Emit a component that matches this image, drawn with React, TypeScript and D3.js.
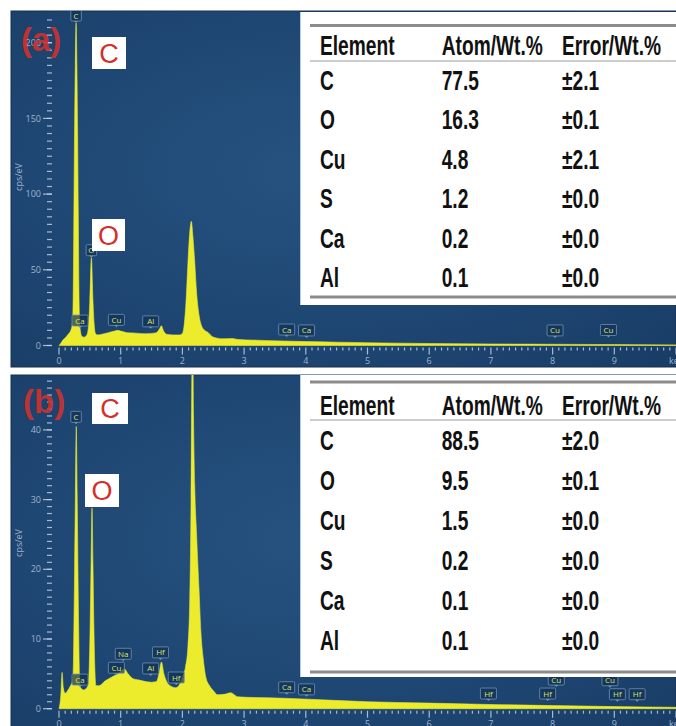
import React from 'react';
import * as d3 from 'd3';

// ---- Quantification tables ----
const tableHeaders = ['Element', 'Atom/Wt.%', 'Error/Wt.%'];
const elements = ['C', 'O', 'Cu', 'S', 'Ca', 'Al'];
const atomA = [77.5, 16.3, 4.8, 1.2, 0.2, 0.1];
const errorA = [2.1, 0.1, 2.1, 0.0, 0.0, 0.0];
const atomB = [88.5, 9.5, 1.5, 0.2, 0.1, 0.1];
const errorB = [2.0, 0.1, 0.0, 0.0, 0.0, 0.0];

// ---- Energy axis (keV) ----
const energyTicks = [0, 1, 2, 3, 4, 5, 6, 7, 8, 9];
const energyUnit = 'keV';
const countUnit = 'cps/eV';

// ---- Spectrum (a): [energy keV, counts cps/eV] ----
const spectrumA: [number, number][] = [
  [0.0, 0], [0.03, 1.5], [0.06, 3.5], [0.1, 5], [0.14, 7], [0.18, 9], [0.2, 11],
  [0.22, 16], [0.232, 40], [0.242, 90], [0.252, 140], [0.264, 185], [0.277, 213],
  [0.29, 185], [0.302, 140], [0.312, 90], [0.322, 40], [0.335, 16], [0.35, 9],
  [0.37, 6], [0.41, 5.5], [0.44, 6.5], [0.46, 8], [0.48, 14], [0.5, 30], [0.525, 58],
  [0.55, 30], [0.57, 14], [0.59, 8], [0.63, 7], [0.7, 7.5], [0.8, 8.5], [0.9, 9.5],
  [0.95, 10], [1.0, 9.5], [1.1, 8.5], [1.2, 8.3], [1.3, 8], [1.4, 7.8], [1.5, 8],
  [1.58, 8.5], [1.63, 11], [1.66, 13], [1.69, 10], [1.74, 7.5], [1.85, 7], [1.95, 7],
  [2.0, 8], [2.03, 14], [2.06, 30], [2.09, 55], [2.12, 75], [2.145, 82], [2.17, 72],
  [2.2, 55], [2.23, 35], [2.27, 20], [2.31, 13], [2.36, 10], [2.42, 8.5], [2.48, 6],
  [2.55, 5], [2.65, 4.4], [2.8, 4.6], [2.9, 4], [3.2, 3.5], [3.6, 3], [4.0, 2.6],
  [4.5, 2.2], [5.0, 1.8], [6.0, 1.3], [7.0, 1], [8.0, 0.8], [9.0, 0.6], [10.0, 0.4],
];

// ---- Spectrum (b) ----
const spectrumB: [number, number][] = [
  [0.0, 0], [0.03, 2], [0.05, 5.2], [0.07, 3], [0.1, 2.2], [0.14, 2.6], [0.18, 3.2],
  [0.22, 4], [0.232, 6], [0.242, 12], [0.253, 20], [0.266, 31], [0.28, 40.5],
  [0.294, 31], [0.307, 20], [0.318, 12], [0.332, 5], [0.35, 3], [0.4, 2.7], [0.45, 3],
  [0.475, 3.5], [0.49, 6], [0.505, 12], [0.52, 21], [0.535, 28.8], [0.55, 21],
  [0.565, 12], [0.58, 6], [0.6, 3.3], [0.65, 3.3], [0.75, 4], [0.85, 4.5], [0.95, 5],
  [1.02, 5.5], [1.06, 5.7], [1.12, 5], [1.2, 4.3], [1.3, 4.1], [1.4, 3.9], [1.5, 3.8],
  [1.58, 3.9], [1.62, 5], [1.66, 6.7], [1.7, 5], [1.75, 3.8], [1.82, 3.2], [1.89, 3.0],
  [1.95, 3.4], [2.0, 4.5], [2.05, 6], [2.09, 9], [2.12, 16], [2.14, 30], [2.155, 50],
  [2.165, 55], [2.18, 42], [2.2, 32], [2.23, 25], [2.27, 17], [2.3, 11], [2.34, 7],
  [2.38, 4.5], [2.44, 3.3], [2.5, 2.6], [2.57, 2.0], [2.7, 2.1], [2.78, 2.3],
  [2.9, 1.7], [3.2, 1.6], [3.65, 1.5], [4.45, 1.2], [5.0, 1.0], [6.0, 0.8],
  [7.0, 0.6], [8.0, 0.45], [9.0, 0.3], [10.0, 0.2],
];

// ---- Line markers: element, energy (keV), height of tag foot (cps/eV) ----
type Marker = { el: string; e: number; at: number };
const markersA: Marker[] = [
  { el: 'C', e: 0.277, at: 213 },
  { el: 'O', e: 0.525, at: 58 },
  { el: 'Ca', e: 0.341, at: 11.5 },
  { el: 'Cu', e: 0.93, at: 12 },
  { el: 'Al', e: 1.486, at: 11 },
  { el: 'Ca', e: 3.69, at: 5.6 },
  { el: 'Ca', e: 4.012, at: 5 },
  { el: 'Cu', e: 8.04, at: 5 },
  { el: 'Cu', e: 8.905, at: 5.3 },
];
const markersB: Marker[] = [
  { el: 'C', e: 0.277, at: 40.8 },
  { el: 'O', e: 0.525, at: 29 },
  { el: 'Ca', e: 0.341, at: 3.1 },
  { el: 'Cu', e: 0.93, at: 4.8 },
  { el: 'Na', e: 1.041, at: 6.8 },
  { el: 'Al', e: 1.486, at: 4.7 },
  { el: 'Hf', e: 1.645, at: 7.0 },
  { el: 'Hf', e: 1.9, at: 3.4 },
  { el: 'Ca', e: 3.69, at: 2.0 },
  { el: 'Ca', e: 4.012, at: 1.7 },
  { el: 'Hf', e: 6.96, at: 1.1 },
  { el: 'Hf', e: 7.92, at: 1.1 },
  { el: 'Cu', e: 8.06, at: 3.1 },
  { el: 'Cu', e: 8.93, at: 3.0 },
  { el: 'Hf', e: 9.05, at: 1.0 },
  { el: 'Hf', e: 9.37, at: 1.0 },
];

const TICK_COLOR = 'rgba(190,208,230,0.85)';
const LABEL_COLOR = '#9fb3cc';
const TABLE_FONT = '"Liberation Sans", Arial, sans-serif';
const RED = '#d4302b';

type Callout = { text: string; x0: number; y0: number; x1: number; y1: number };

type PanelProps = {
  id: string;
  top: number;
  bottom: number;
  yDomainMax: number;
  yRange: [number, number];
  yMajorStep: number;
  yMinorStep: number;
  yTickMax: number;
  spectrum: [number, number][];
  markers: Marker[];
  tag: string;
  tagX: number;
  tagY: number;
  callouts: Callout[];
  atom: number[];
  error: number[];
  table: {
    boxTop: number; boxBottom: number; ruleTop: number; headerBase: number;
    headerRule: number; firstRow: number; rowStep: number; ruleBottom: number;
  };
  ylabelY: number;
};

function Panel(p: PanelProps) {
  const x = d3.scaleLinear().domain([0, 10]).range([59, 676]);
  const y = d3.scaleLinear().domain([0, p.yDomainMax]).range(p.yRange);
  const y0 = y(0);

  const area = d3
    .area<[number, number]>()
    .x((d) => x(d[0]))
    .y0(y0)
    .y1((d) => y(d[1]))
    .curve(d3.curveMonotoneX);

  const xMinor = d3.range(0, 100.5, 1).map((i) => i / 10);
  const yMinor = d3.range(0, p.yTickMax + 0.001, p.yMinorStep);
  const yMajor = d3.range(0, p.yTickMax + 0.001, p.yMajorStep);

  const cols = [320, 441.7, 562];
  const sx = 0.685;

  return (
    <g>
      <defs>
        <radialGradient id={`bg-${p.id}`} cx="45%" cy="45%" r="75%">
          <stop offset="0%" stopColor="#26527f" />
          <stop offset="55%" stopColor="#1f4774" />
          <stop offset="100%" stopColor="#193d66" />
        </radialGradient>
        <clipPath id={`clip-${p.id}`}>
          <rect x={11} y={p.top} width={665} height={p.bottom - p.top} />
        </clipPath>
      </defs>
      <rect x={11} y={p.top} width={665} height={p.bottom - p.top} fill={`url(#bg-${p.id})`} stroke="#16304f" strokeWidth={1} />

      <g clipPath={`url(#clip-${p.id})`}>
        {/* y axis ticks */}
        {yMinor.map((v) => (
          <line key={`ym${v}`} x1={47} x2={52} y1={y(v)} y2={y(v)} stroke={TICK_COLOR} strokeWidth={1.2} />
        ))}
        {yMajor.map((v) => (
          <g key={`yM${v}`}>
            <line x1={43} x2={52} y1={y(v)} y2={y(v)} stroke={TICK_COLOR} strokeWidth={1.2} />
            <text x={41} y={y(v)} dy="0.35em" textAnchor="end" fontSize={9} fill={LABEL_COLOR} fontFamily='"Open Sans", sans-serif'>
              {v}
            </text>
          </g>
        ))}
        <text
          transform={`translate(22,${p.ylabelY}) rotate(-90)`}
          textAnchor="middle"
          fontSize={9}
          fill={LABEL_COLOR}
          fontFamily='"Open Sans", sans-serif'
        >
          {countUnit}
        </text>

        {/* x axis ticks */}
        {xMinor.map((v, i) => (
          <line
            key={`xm${i}`}
            x1={x(v)}
            x2={x(v)}
            y1={y0 + 2}
            y2={i % 10 === 0 ? y0 + 9 : y0 + 5}
            stroke={TICK_COLOR}
            strokeWidth={1.2}
          />
        ))}
        {energyTicks.map((v) => (
          <text key={`xl${v}`} x={x(v)} y={y0 + 18} textAnchor="middle" fontSize={9} fill={LABEL_COLOR} fontFamily='"Open Sans", sans-serif'>
            {v}
          </text>
        ))}
        <text x={669} y={y0 + 18} fontSize={9} fill={LABEL_COLOR} fontFamily='"Open Sans", sans-serif'>
          {energyUnit}
        </text>

        {/* spectrum */}
        <path d={area(p.spectrum) ?? ''} fill="#ecec2c" stroke="#e6ea3a" strokeWidth={0.6} />

        {/* element line markers */}
        {p.markers.map((m, i) => {
          const cx = x(m.e);
          const yb = y(m.at);
          const w = m.el.length * 5.5 + 5;
          const h = 11;
          return (
            <g key={`mk${i}`}>
              <rect x={cx - w / 2} y={yb - h - 2} width={w} height={h} fill="rgba(18,48,84,0.7)" stroke="#6f93b5" strokeWidth={0.8} rx={1} />
              <path d={`M${cx - 2},${yb - 2}L${cx},${yb}L${cx + 2},${yb - 2}Z`} fill="#6f93b5" />
              <text x={cx} y={yb - 4.5} textAnchor="middle" fontSize={8} fill="#d9e36a" fontFamily='"Open Sans", sans-serif'>
                {m.el}
              </text>
            </g>
          );
        })}
      </g>

      {/* element callouts */}
      {p.callouts.map((c, i) => (
        <g key={`co${i}`}>
          <rect x={c.x0} y={c.y0} width={c.x1 - c.x0} height={c.y1 - c.y0} fill="#ffffff" />
          <text
            x={(c.x0 + c.x1) / 2}
            y={(c.y0 + c.y1) / 2}
            dy="0.36em"
            textAnchor="middle"
            fontSize={27}
            fill={RED}
            fontFamily={TABLE_FONT}
          >
            {c.text}
          </text>
        </g>
      ))}

      {/* panel tag */}
      <text x={p.tagX} y={p.tagY} fontSize={33} fontWeight="bold" fill={RED} fillOpacity={0.9} fontFamily={TABLE_FONT}>
        {p.tag}
      </text>

      {/* quantification table */}
      <g>
        <rect x={300} y={p.table.boxTop} width={376} height={p.table.boxBottom - p.table.boxTop} fill="#ffffff" />
        <line x1={300.5} x2={300.5} y1={p.table.boxTop} y2={p.table.boxBottom} stroke="#b4cfe4" strokeWidth={1} />
        <line x1={310} x2={676} y1={p.table.ruleTop} y2={p.table.ruleTop} stroke="#8c8c8c" strokeWidth={3} />
        <line x1={310} x2={676} y1={p.table.headerRule} y2={p.table.headerRule} stroke="#9a9a9a" strokeWidth={1} />
        <line x1={310} x2={676} y1={p.table.ruleBottom} y2={p.table.ruleBottom} stroke="#8c8c8c" strokeWidth={3} />
        {tableHeaders.map((h, j) => (
          <text
            key={`th${j}`}
            transform={`translate(${cols[j]},${p.table.headerBase}) scale(${sx},1)`}
            fontSize={28}
            fontWeight="bold"
            fill="#111"
            fontFamily={TABLE_FONT}
          >
            {h}
          </text>
        ))}
        {elements.map((el, i) => {
          const yy = p.table.firstRow + i * p.table.rowStep;
          const cells = [el, p.atom[i].toFixed(1), '±' + p.error[i].toFixed(1)];
          return cells.map((c, j) => (
            <text
              key={`td${i}-${j}`}
              transform={`translate(${cols[j]},${yy}) scale(${sx},1)`}
              fontSize={28}
              fontWeight="bold"
              fill="#111"
              fontFamily={TABLE_FONT}
            >
              {c}
            </text>
          ));
        })}
      </g>
    </g>
  );
}

export default function App() {
  return (
    <svg
      width={676}
      height={726}
      viewBox="0 0 676 726"
      style={{ position: 'absolute', left: 0, top: 0, display: 'block', background: '#ffffff' }}
    >
      <Panel
        id="a"
        top={11}
        bottom={367}
        yDomainMax={200}
        yRange={[345.5, 42.7]}
        yMajorStep={50}
        yMinorStep={5}
        yTickMax={215}
        spectrum={spectrumA}
        markers={markersA}
        tag="(a)"
        tagX={21}
        tagY={51}
        callouts={[
          { text: 'C', x0: 92, y0: 37, x1: 126, y1: 69 },
          { text: 'O', x0: 92, y0: 219, x1: 125, y1: 251 },
        ]}
        atom={atomA}
        error={errorA}
        table={{ boxTop: 12, boxBottom: 305, ruleTop: 25.5, headerBase: 55, headerRule: 61, firstRow: 90, rowStep: 39.4, ruleBottom: 297 }}
        ylabelY={177}
      />
      <Panel
        id="b"
        top={375}
        bottom={740}
        yDomainMax={40}
        yRange={[708.7, 429.9]}
        yMajorStep={10}
        yMinorStep={1}
        yTickMax={47}
        spectrum={spectrumB}
        markers={markersB}
        tag="(b)"
        tagX={23}
        tagY={413}
        callouts={[
          { text: 'C', x0: 92, y0: 393, x1: 128, y1: 424 },
          { text: 'O', x0: 85, y0: 474, x1: 119, y1: 507 },
        ]}
        atom={atomB}
        error={errorB}
        table={{ boxTop: 375, boxBottom: 677, ruleTop: 382, headerBase: 415, headerRule: 420, firstRow: 450, rowStep: 40, ruleBottom: 672 }}
        ylabelY={543}
      />
    </svg>
  );
}
